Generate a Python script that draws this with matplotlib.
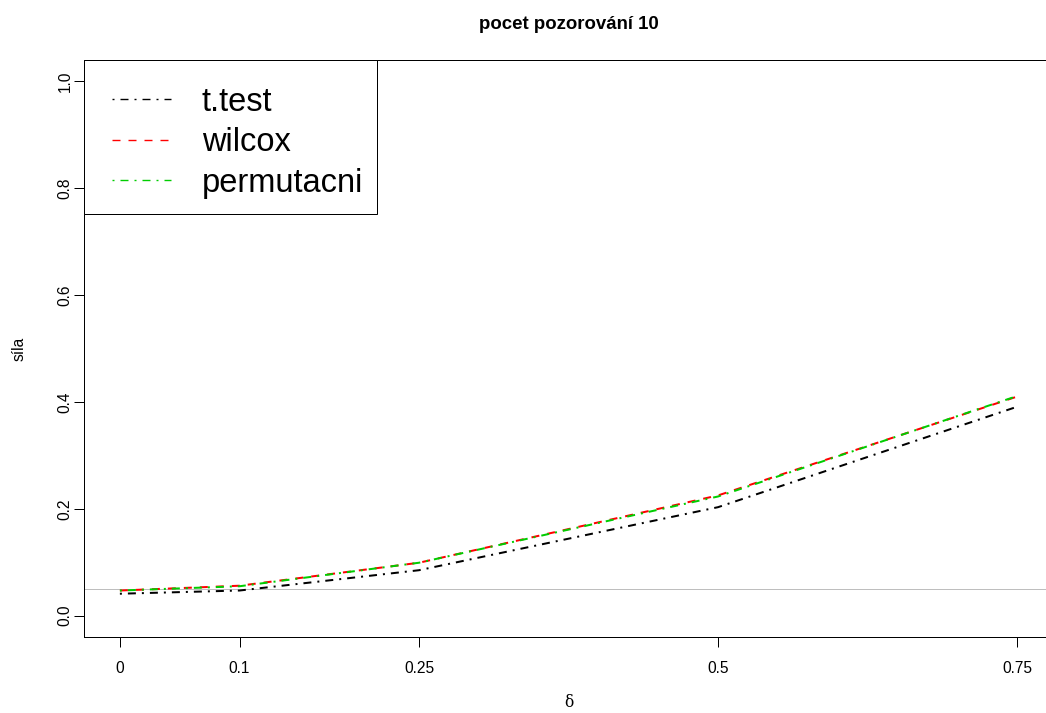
import matplotlib
matplotlib.use("Agg")
import matplotlib.pyplot as plt
import matplotlib.transforms as mtransforms
from matplotlib.lines import Line2D

# ---- data ----
delta = [0, 0.1, 0.25, 0.5, 0.75]
ttest = [0.041, 0.047, 0.085, 0.203, 0.391]
wilcox = [0.047, 0.056, 0.099, 0.225, 0.410]
permut = [0.047, 0.055, 0.099, 0.223, 0.411]
xtick_labels = ["0", "0.1", "0.25", "0.5", "0.75"]
yticks = [0.0, 0.2, 0.4, 0.6, 0.8, 1.0]
ref_level = 0.05
title = "pocet pozorování 10"
series_names = ["t.test", "wilcox", "permutacni"]

plt.rcParams['font.family'] = ['Liberation Sans', 'DejaVu Sans']

W, H = 1046, 713
fig = plt.figure(figsize=(W / 100, H / 100), dpi=100)
L, R, T, B = 84, 1053, 60, 637
ax = fig.add_axes([L / W, 1 - B / H, (R - L) / W, (B - T) / H])

px = 0.72  # one pixel in points
lw = 2 * px
dotdash = (0, (1, 3, 4, 3))
dashed = (0, (4, 4))
cols = ["black", "#FF0000", "#00CD00"]
ax.axhline(ref_level, color="#BEBEBE", lw=1 * px, zorder=1)
ax.plot(delta, ttest, color=cols[0], lw=lw, ls=dotdash)
ax.plot(delta, wilcox, color=cols[1], lw=lw, ls=dashed)
ax.plot(delta, permut, color=cols[2], lw=lw, ls=dotdash)

ax.set_xlim(-0.03, 0.78)
ax.set_ylim(-0.04, 1.04)
ax.set_xticks(delta)
ax.set_xticklabels(xtick_labels)
ax.set_yticks(yticks)
ax.set_yticklabels([f"{v:.1f}" for v in yticks], rotation=90, va="center")

fs = 11.2
ax.tick_params(axis="both", direction="out", length=7.2, width=px, labelsize=fs, color="black")
ax.tick_params(axis="x", pad=10)
ax.tick_params(axis="y", pad=1)
for s in ax.spines.values():
    s.set_linewidth(px)
    s.set_color("black")

ax.set_xlabel("δ", fontsize=fs, family=["DejaVu Serif"], labelpad=13)
ax.set_ylabel("síla", fontsize=fs, labelpad=22)

fig.text((L + R) / 2 / W, 1 - 29 / H, title, ha="center", va="baseline",
         fontsize=13.4, fontweight="bold")

# legend with thinner sample lines (same absolute dash lengths as plot lines)
lwl = 1.0
k = lw / lwl
h1 = Line2D([], [], color=cols[0], lw=lwl, ls=(0, tuple(v * k for v in dotdash[1])))
h2 = Line2D([], [], color=cols[1], lw=lwl, ls=(0, tuple(v * k for v in dashed[1])))
h3 = Line2D([], [], color=cols[2], lw=lwl, ls=(0, tuple(v * k for v in dotdash[1])))
leg = ax.legend([h1, h2, h3], series_names, loc="upper left", borderaxespad=0,
                fontsize=23.5, fancybox=False, edgecolor="black", framealpha=1,
                handlelength=1.8, handletextpad=0.95, borderpad=0.64, labelspacing=0.29)
leg.get_frame().set_linewidth(px)

# nudge legend content (not the frame) to match the reference placement
shift = mtransforms.ScaledTranslation(7 / 100, -6 / 100, fig.dpi_scale_trans)
for t in leg.get_texts():
    t.set_transform(t.get_transform() + shift)
for ln in leg.get_lines():
    ln.set_transform(ln.get_transform() + shift)

fig.savefig("out.png", dpi=100)
